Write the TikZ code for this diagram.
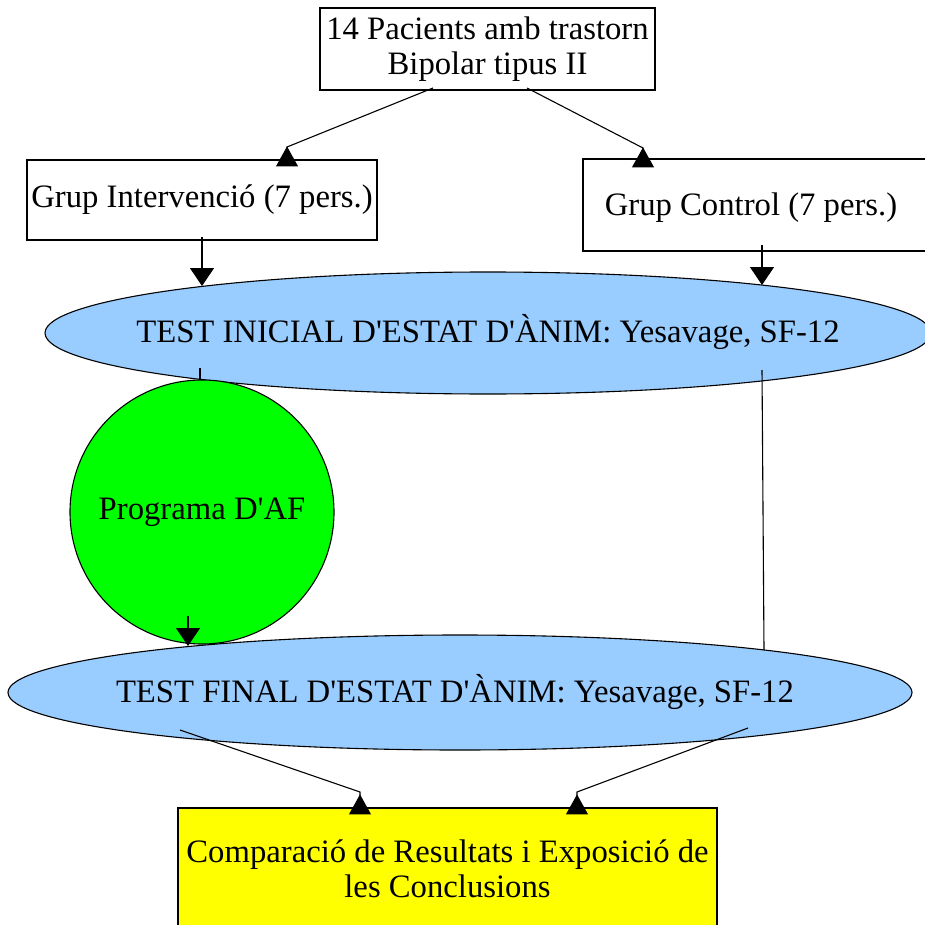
\documentclass[tikz,border=0pt]{standalone}
\usepackage{fontspec}
\setmainfont{Liberation Serif}
\newfontfamily\plainserif{Liberation Serif}
\usetikzlibrary{arrows.meta,shapes.geometric,calc}
\definecolor{ellblue}{HTML}{99CCFF}
\definecolor{circgreen}{HTML}{00FF00}
\definecolor{boxyellow}{HTML}{FFFF00}
\begin{document}
\begin{tikzpicture}[x=1pt,y=-1pt,
  every node/.style={font=\plainserif\fontsize{32.7}{35}\selectfont, inner sep=0pt, align=center, line width=1.1pt},
  rectbox/.style={draw=black, rectangle, fill=white},
  ellbox/.style={draw=black, ellipse, fill=ellblue},
  circbox/.style={draw=black, circle, fill=circgreen},
  yellbox/.style={draw=black, rectangle, fill=boxyellow},
  conn/.style={draw=black, line width=1.1pt},
  downarr/.style={conn, -{Triangle[width=24pt,length=18pt]}},
  uparr/.style={conn, -{Triangle[reversed,width=22pt,length=20pt]}}]
\useasboundingbox (0,0) rectangle (925,925);
\clip (0,0) rectangle (925,925);
\fill[white] (0,0) rectangle (925,925);

% nodes
\node[rectbox, minimum width=335, minimum height=82] (top) at (487.5,49) {14 Pacients amb trastorn\\Bipolar tipus II};
\node[rectbox, minimum width=350, minimum height=80] (left) at (202,200) {Grup Intervenció (7 pers.)};
\node[rectbox, minimum width=347, minimum height=92] (right) at (756.5,205) {};
\node at (751,208) (rightlbl) {Grup Control (7 pers.)};
\node[ellbox, minimum width=886, minimum height=122] (e1) at (488,333) {};
\node at (488,332) (e1lbl) {TEST INICIAL D'ESTAT D'ÀNIM: Yesavage, SF-12};
\node[circbox, minimum size=264] (circ) at (202,512) {Programa D'AF};
\node[ellbox, minimum width=904, minimum height=115] (e2) at (460,692.5) {};
\node at (455,692) (e2lbl) {TEST FINAL D'ESTAT D'ÀNIM: Yesavage, SF-12};
\node[yellbox, minimum width=539, minimum height=140] (res) at (447.5,878) {};
\node at (447.5,869) (reslbl) {Comparació de Resultats i Exposició de\\les Conclusions};

% connector end points
\coordinate (tA) at (433,88);
\coordinate (tB) at (527,88);
\coordinate (apL) at (287,147);
\coordinate (apR) at (643,148);
\coordinate (lS) at (202,237);
\coordinate (rS) at (762,245);
\coordinate (e1L) at (200,368);
\coordinate (e1R) at (762,370);
\coordinate (cS) at (188,616);
\coordinate (e2L) at (180,730);
\coordinate (e2R) at (748,728);
\coordinate (apBL) at (360,792);
\coordinate (apBR) at (577,792);

% connectors
\draw[uparr] (tA) -- (apL) -- (apL |- left.north) -- ++(0,7);
\draw[uparr] (tB) -- (apR) -- (apR |- right.north) -- ++(0,9);
\draw[downarr] (lS) -- (lS |- 0,286);
\draw[downarr] (rS) -- (rS |- 0,285);
\draw[conn] (e1L) -- (e1L |- circ.north);
\draw[conn] (e1R) -- (764,650);
\draw[downarr] (cS) -- (cS |- 0,646);
\draw[uparr] (e2L) -- (apBL) -- ($(apBL |- res.north)+(0,7)$);
\draw[uparr] (e2R) -- (apBR) -- ($(apBR |- res.north)+(0,7)$);
\end{tikzpicture}
\end{document}
